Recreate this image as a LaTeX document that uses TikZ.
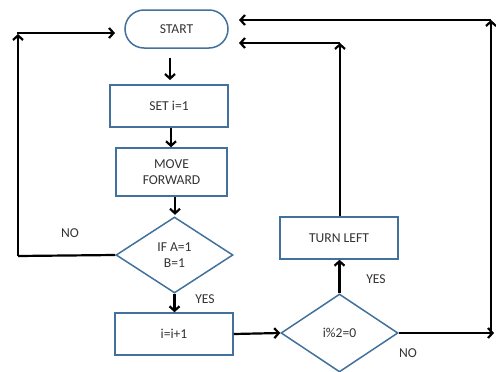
\documentclass[tikz,border=0pt]{standalone}
\usepackage{fontspec}
\setmainfont{Carlito}
\usetikzlibrary{shapes.geometric,arrows.meta,calc}
\definecolor{shapeblue}{HTML}{41719C}
\definecolor{txt}{HTML}{333333}
\tikzset{
  box/.style={draw=shapeblue,line width=1.5pt,rectangle,inner sep=0pt,text=txt,align=center,font=\fontsize{13.6}{16}\selectfont},
  term/.style={box,rounded corners=19pt},
  dec/.style={draw=shapeblue,line width=1.5pt,diamond,inner sep=0pt,text=txt,align=center,font=\fontsize{13.6}{16}\selectfont},
  arr/.style={line width=2.2pt,-{Straight Barb[length=4.5pt,width=10pt]}},
  ln/.style={line width=2.2pt},
  lbl/.style={text=txt,font=\fontsize{13.6}{16}\selectfont},
}
\begin{document}
\begin{tikzpicture}[x=1pt,y=-1pt]
\useasboundingbox (0,0) rectangle (496,372);
\node[term,minimum width=103pt,minimum height=38pt] (start) at (176.5,29) {START};
\node[box,minimum width=118pt,minimum height=42pt] (set) at (169,106) {SET i=1};
\node[box,minimum width=111pt,minimum height=48pt] (move) at (171.5,172) {MOVE\\FORWARD};
\node[dec,minimum width=117pt,minimum height=76pt,aspect=1.54] (ifab) at (174.5,255) {IF A=1\\B=1};
\node[box,minimum width=118pt,minimum height=42pt] (inc) at (174,334) {i=i+1};
\node[dec,minimum width=117pt,minimum height=78pt,aspect=1.5] (mod) at (339.5,333) {i\%2=0};
\node[box,minimum width=118pt,minimum height=42pt] (turn) at (339,238) {TURN LEFT};

\coordinate (l1) at (18,256);
\coordinate (l2) at (18,33);
\coordinate (r1) at (491,333);
\coordinate (r1e) at (494,333);
\coordinate (r2) at (491,20);
\coordinate (t1) at (340,43);
\coordinate (sin1) at (239,20);
\coordinate (sin2) at (239,43);
\coordinate (sin3) at (115,33);
\coordinate (s1) at (170,58);
\coordinate (s2) at (170,80);

\draw[arr] (s1) -- (s2);
\draw[arr] (set.south -| 171,0) -- (move.north -| 171,0);
\draw[arr] (move.south -| 175,0) -- ++(0,18);
\draw[arr] (ifab.south) -- (inc.north -| ifab.south);
\draw[arr] (inc.east) -- (mod.west);
\draw[arr] (mod.north) -- (turn.south -| mod.north);
\draw[arr] (turn.north -| t1) -- (t1);
\draw[arr] (t1) -- (sin2);
\draw[arr] (mod.east) -- (r1e);
\draw[arr] (r1) -- (r2);
\draw[arr] (r2) -- (sin1);
\draw[ln] (ifab.west) -- (l1);
\draw[arr] (l1) -- ($(l2)+(0,1)$);
\draw[arr] ($(l2)+(-1,0)$) -- (sin3);

\node[lbl] (no1) at (70,233) {NO};
\node[lbl] (yes1) at (205,299) {YES};
\node[lbl] (yes2) at (376,279) {YES};
\node[lbl] (no2) at (408,353) {NO};
\end{tikzpicture}
\end{document}
